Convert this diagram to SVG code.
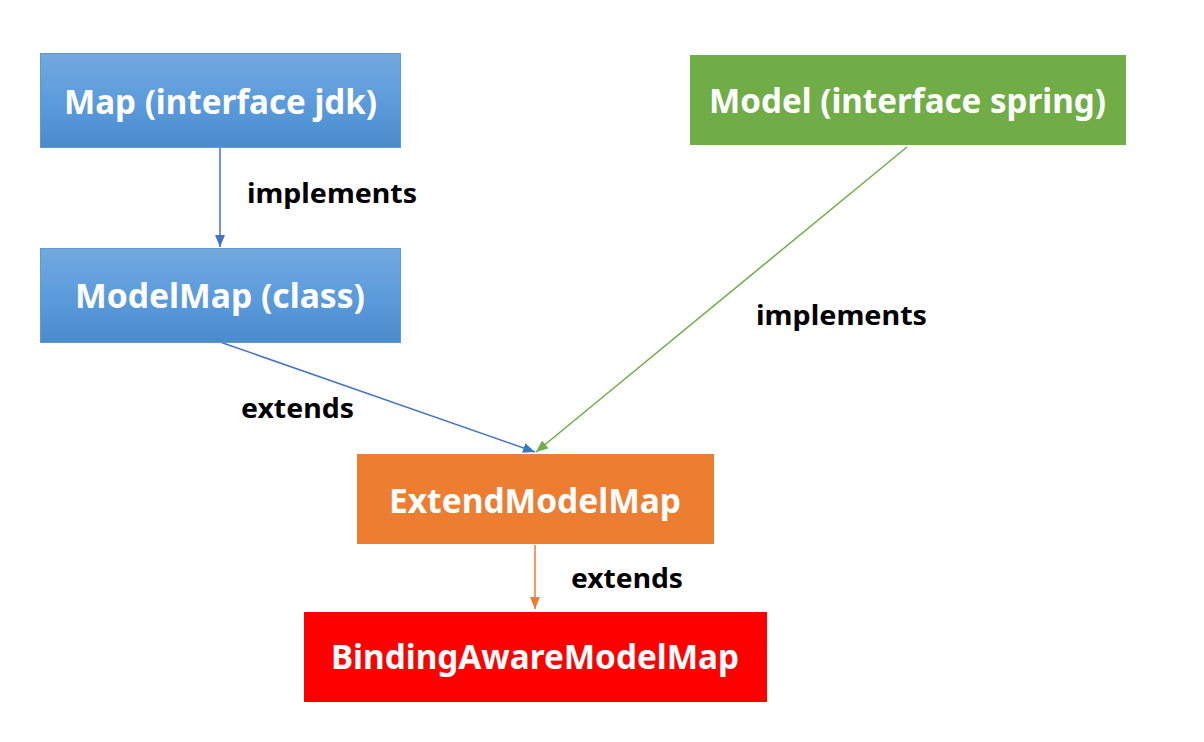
<svg xmlns="http://www.w3.org/2000/svg" width="1204" height="742" viewBox="0 0 1204 742">
<style>
.node-text{font-family:"Noto Sans","Open Sans","DejaVu Sans",sans-serif;font-weight:bold;font-size:34px;fill:#ffffff}
.label{font-family:"Noto Sans","Open Sans","DejaVu Sans",sans-serif;font-weight:bold;font-size:26px;fill:#000000}
</style>
<defs>
<linearGradient id="blue" x1="0" y1="0" x2="0" y2="1">
<stop offset="0" stop-color="#72a8de"/>
<stop offset="0.5" stop-color="#5c9cdc"/>
<stop offset="1" stop-color="#4a8bcb"/>
</linearGradient>
<marker id="ah-blue" viewBox="0 0 12 10" refX="12" refY="5" markerWidth="12" markerHeight="10" markerUnits="userSpaceOnUse" orient="auto"><path d="M0,0 L12,5 L0,10 z" fill="#4472c4"/></marker>
<marker id="ah-green" viewBox="0 0 12 10" refX="12" refY="5" markerWidth="12" markerHeight="10" markerUnits="userSpaceOnUse" orient="auto"><path d="M0,0 L12,5 L0,10 z" fill="#70ad47"/></marker>
<marker id="ah-orange" viewBox="0 0 12 10" refX="12" refY="5" markerWidth="12" markerHeight="10" markerUnits="userSpaceOnUse" orient="auto"><path d="M0,0 L12,5 L0,10 z" fill="#ed7d31"/></marker>
</defs>
<rect width="1204" height="742" fill="#ffffff"/>
<g id="connectors">
<line x1="220" y1="147" x2="220" y2="247" stroke="#4472c4" stroke-width="1.5" marker-end="url(#ah-blue)"/>
<line x1="220" y1="342" x2="535" y2="452" stroke="#4472c4" stroke-width="1.5" marker-end="url(#ah-blue)"/>
<line x1="907" y1="147" x2="536" y2="452" stroke="#70ad47" stroke-width="1.5" marker-end="url(#ah-green)"/>
<line x1="535" y1="545" x2="535" y2="609" stroke="#ed7d31" stroke-width="1.5" marker-end="url(#ah-orange)"/>
<text class="label" x="247" y="203" textLength="170" lengthAdjust="spacingAndGlyphs">implements</text>
<text class="label" x="756" y="325" textLength="171" lengthAdjust="spacingAndGlyphs">implements</text>
<text class="label" x="241" y="418" textLength="113" lengthAdjust="spacingAndGlyphs">extends</text>
<text class="label" x="571" y="588" textLength="112" lengthAdjust="spacingAndGlyphs">extends</text>
</g>
<g id="node-map">
<rect x="40.5" y="53.5" width="360" height="94" fill="url(#blue)" stroke="#5b9bd5" stroke-width="1"/>
<text class="node-text" x="64" y="114" textLength="313" lengthAdjust="spacingAndGlyphs">Map (interface jdk)</text>
</g>
<g id="node-modelmap">
<rect x="40.5" y="248.5" width="360" height="94" fill="url(#blue)" stroke="#5b9bd5" stroke-width="1"/>
<text class="node-text" x="75" y="308" textLength="290" lengthAdjust="spacingAndGlyphs">ModelMap (class)</text>
</g>
<g id="node-model">
<rect x="690" y="55" width="436" height="90" fill="#70ad47"/>
<text class="node-text" x="709" y="113" textLength="397" lengthAdjust="spacingAndGlyphs">Model (interface spring)</text>
</g>
<g id="node-extend">
<rect x="357" y="454" width="357" height="90" fill="#ed7d31"/>
<text class="node-text" x="389" y="513" textLength="292" lengthAdjust="spacingAndGlyphs">ExtendModelMap</text>
</g>
<g id="node-binding">
<rect x="304" y="612" width="463" height="90" fill="#ff0000"/>
<text class="node-text" x="331" y="669" textLength="408" lengthAdjust="spacingAndGlyphs">BindingAwareModelMap</text>
</g>
</svg>
